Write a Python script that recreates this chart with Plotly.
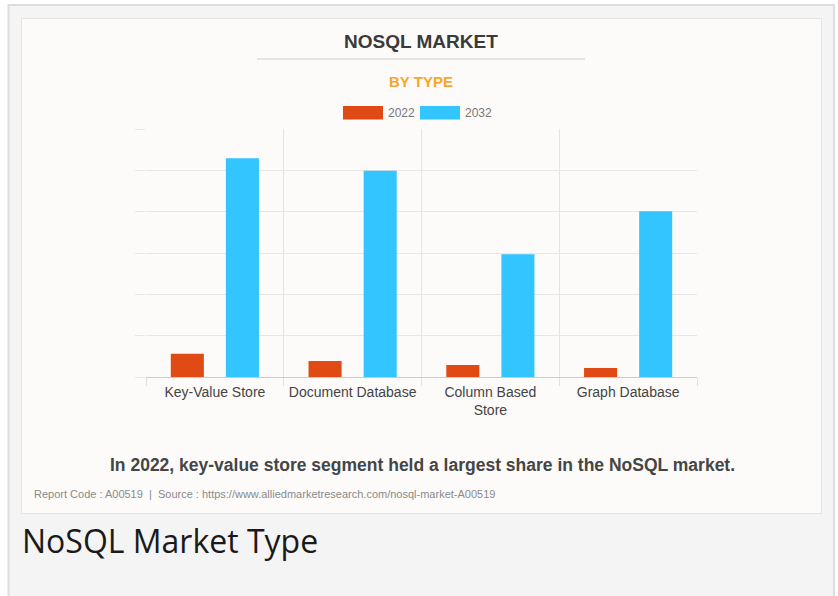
import plotly.graph_objects as go

# ---- data ----
categories = ["Key-Value Store", "Document Database", "Column Based<br>Store", "Graph Database"]
series_names = ["2022", "2032"]
values_2022 = [2.85, 1.97, 1.49, 1.13]
values_2032 = [26.5, 25.0, 14.9, 20.1]
colors = ["#e04a15", "#33c5ff"]

title_text = "NOSQL MARKET"
subtitle_text = "BY TYPE"
caption_text = "In 2022, key-value store segment held a largest share in the NoSQL market."
source_text = "Report Code : A00519  |  Source : https://www.alliedmarketresearch.com/nosql-market-A00519"
page_title = "NoSQL Market Type"

W, H = 838, 596


def px(x):
    return x / W


def py(y):
    return 1 - y / H


fig = go.Figure()
fig.add_trace(go.Bar(x=categories, y=values_2022, name=series_names[0],
                     marker=dict(color=colors[0], line=dict(width=0)), showlegend=False))
fig.add_trace(go.Bar(x=categories, y=values_2032, name=series_names[1],
                     marker=dict(color=colors[1], line=dict(width=0)), showlegend=False))

card_bg = "#fcfbfa"
font_main = "Liberation Sans, Arial, sans-serif"

shapes = [
    # outer frame
    dict(type="rect", xref="paper", yref="paper", x0=px(8.5), x1=px(834), y0=py(5), y1=py(620),
         line=dict(color="#dedede", width=2), fillcolor="#f4f4f4", layer="below"),
    # card
    dict(type="rect", xref="paper", yref="paper", x0=px(21.5), x1=px(821.5), y0=py(18.5), y1=py(513.5),
         line=dict(color="#e4e4e4", width=1), fillcolor=card_bg, layer="below"),
    # title underline
    dict(type="line", xref="paper", yref="paper", x0=px(257), x1=px(585), y0=py(59), y1=py(59),
         line=dict(color="#d0d0d0", width=1.2)),
    # legend swatches
    dict(type="rect", xref="paper", yref="paper", x0=px(343), x1=px(383), y0=py(106), y1=py(119.5),
         line=dict(width=0), fillcolor=colors[0]),
    dict(type="rect", xref="paper", yref="paper", x0=px(420), x1=px(460), y0=py(106), y1=py(119.5),
         line=dict(width=0), fillcolor=colors[1]),
]

annotations = [
    dict(text=f"<b>{title_text}</b>", x=px(421), y=py(41), xref="paper", yref="paper",
         showarrow=False, font=dict(family=font_main, size=19, color="#3a3a3a"),
         xanchor="center", yanchor="middle"),
    dict(text=f"<b>{subtitle_text}</b>", x=px(421), y=py(82), xref="paper", yref="paper",
         showarrow=False, font=dict(family=font_main, size=15, color="#f9a62b"),
         xanchor="center", yanchor="middle"),
    dict(text=series_names[0], x=px(386), y=py(113), xref="paper", yref="paper",
         showarrow=False, font=dict(family=font_main, size=12, color="#777777"),
         xanchor="left", yanchor="middle"),
    dict(text=series_names[1], x=px(463), y=py(113), xref="paper", yref="paper",
         showarrow=False, font=dict(family=font_main, size=12, color="#777777"),
         xanchor="left", yanchor="middle"),
    dict(text=f"<b>{caption_text}</b>", x=px(422), y=py(465), xref="paper", yref="paper",
         showarrow=False, font=dict(family=font_main, size=17.5, color="#454545"),
         xanchor="center", yanchor="middle"),
    dict(text=source_text, x=px(32), y=py(494), xref="paper", yref="paper",
         showarrow=False, font=dict(family=font_main, size=11, color="#8a8a8a"),
         xanchor="left", yanchor="middle"),
    dict(text=page_title, x=px(20), y=py(540), xref="paper", yref="paper",
         showarrow=False, font=dict(family="Open Sans, Noto Sans, sans-serif", size=32, color="#1a1a1a"),
         xanchor="left", yanchor="middle"),
]

fig.update_layout(
    width=W, height=H,
    margin=dict(l=0, r=0, t=0, b=0),
    paper_bgcolor="#ffffff",
    plot_bgcolor=card_bg,
    barmode="group",
    bargap=0.2,
    bargroupgap=0.4,
    shapes=shapes,
    annotations=annotations,
    xaxis=dict(
        domain=[px(146), px(697)],
        type="category",
        tickson="boundaries",
        showgrid=True, gridcolor="#e4e4e4", gridwidth=1,
        ticks="outside", ticklen=8, tickcolor="#e0e0e0",
        showline=True, linecolor="#cccccc", linewidth=1,
        tickfont=dict(family=font_main, size=14, color="#444444"),
        ticklabelstandoff=2,
        fixedrange=True,
    ),
    yaxis=dict(
        domain=[py(377.3), py(129.3)],
        range=[0, 30],
        dtick=5,
        showticklabels=False,
        showgrid=True, gridcolor="#e6e6e6", gridwidth=1,
        ticks="outside", ticklen=10, tickcolor="#e6e6e6",
        zeroline=False,
        showline=False,
        fixedrange=True,
    ),
)

fig.write_html("out.html", config={"displayModeBar": False, "staticPlot": True},
               post_script="document.body.style.margin='0';document.body.style.overflow='hidden';")
